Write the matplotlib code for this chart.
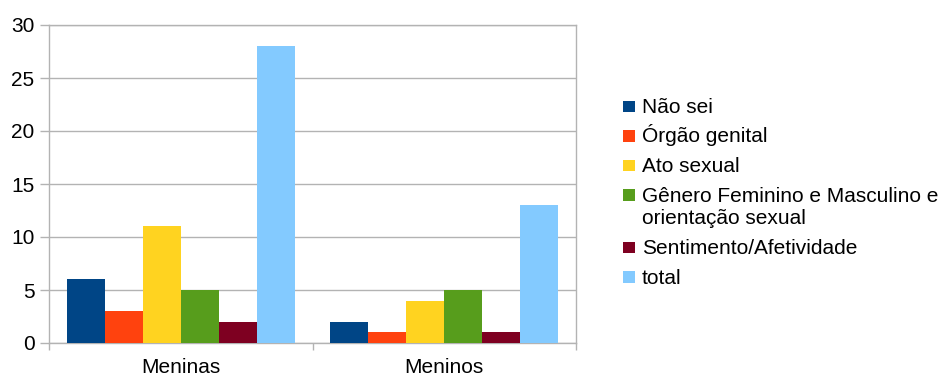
import matplotlib
matplotlib.use("Agg")
import matplotlib.pyplot as plt
import numpy as np
from matplotlib.patches import Rectangle

categories = ["Meninas", "Meninos"]
series = ["Não sei", "Órgão genital", "Ato sexual",
          "Gênero Feminino e Masculino e\norientação sexual",
          "Sentimento/Afetividade", "total"]
values = [
    [6, 2],
    [3, 1],
    [11, 4],
    [5, 5],
    [2, 1],
    [28, 13],
]
colors = ["#004586", "#ff420e", "#ffd320", "#579d1c", "#7e0021", "#83caff"]
yticks = [0, 5, 10, 15, 20, 25, 30]

plt.rcParams['font.family'] = ['Liberation Sans', 'DejaVu Sans']
FS = 15
W, H = 942, 376
fig = plt.figure(figsize=(W / 100, H / 100), dpi=100)
ax = fig.add_axes([49 / W, 1 - 343 / H, (576 - 49) / W, (343 - 25) / H])

grid_c = "#b3b3b3"
x = np.arange(len(categories))
bw = 0.144
n = len(series)
for i, (name, vals, c) in enumerate(zip(series, values, colors)):
    ax.bar(x + (i - (n - 1) / 2) * bw, vals, width=bw, color=c, linewidth=0, zorder=3)

ax.set_xlim(-0.5, len(categories) - 0.5)
ax.set_ylim(0, 30)
ax.set_yticks(yticks)
ax.yaxis.grid(True, color=grid_c, linewidth=1, zorder=0)
ax.tick_params(axis='y', length=6.5, color=grid_c, width=1, labelsize=FS, pad=4, labelcolor="#000000")
ax.set_xticks(x)
ax.set_xticklabels(categories)
ax.set_xticks(np.arange(-0.5, len(categories), 1.0), minor=True)
ax.tick_params(axis='x', which='major', length=0, labelsize=FS, pad=11, labelcolor="#000000")
ax.tick_params(axis='x', which='minor', length=5, color=grid_c, width=1)
for s in ax.spines.values():
    s.set_color(grid_c)
    s.set_linewidth(1)

# legend drawn manually to keep multi-line entry aligned on the first line
baseline = 113
for name, c in zip(series, colors):
    lines = name.split("\n")
    fig.patches.append(Rectangle((623 / W, 1 - 112 / H + (113 - baseline) / H),
                                 12 / W, 11.5 / H, transform=fig.transFigure,
                                 facecolor=c, edgecolor='none'))
    for k, ln in enumerate(lines):
        fig.text(642 / W, 1 - (baseline + 23 * k) / H, ln, fontsize=FS,
                 va='baseline', ha='left', color="#000000")
    baseline += 29.5 + 23 * (len(lines) - 1)

fig.savefig("out.png", dpi=100)
